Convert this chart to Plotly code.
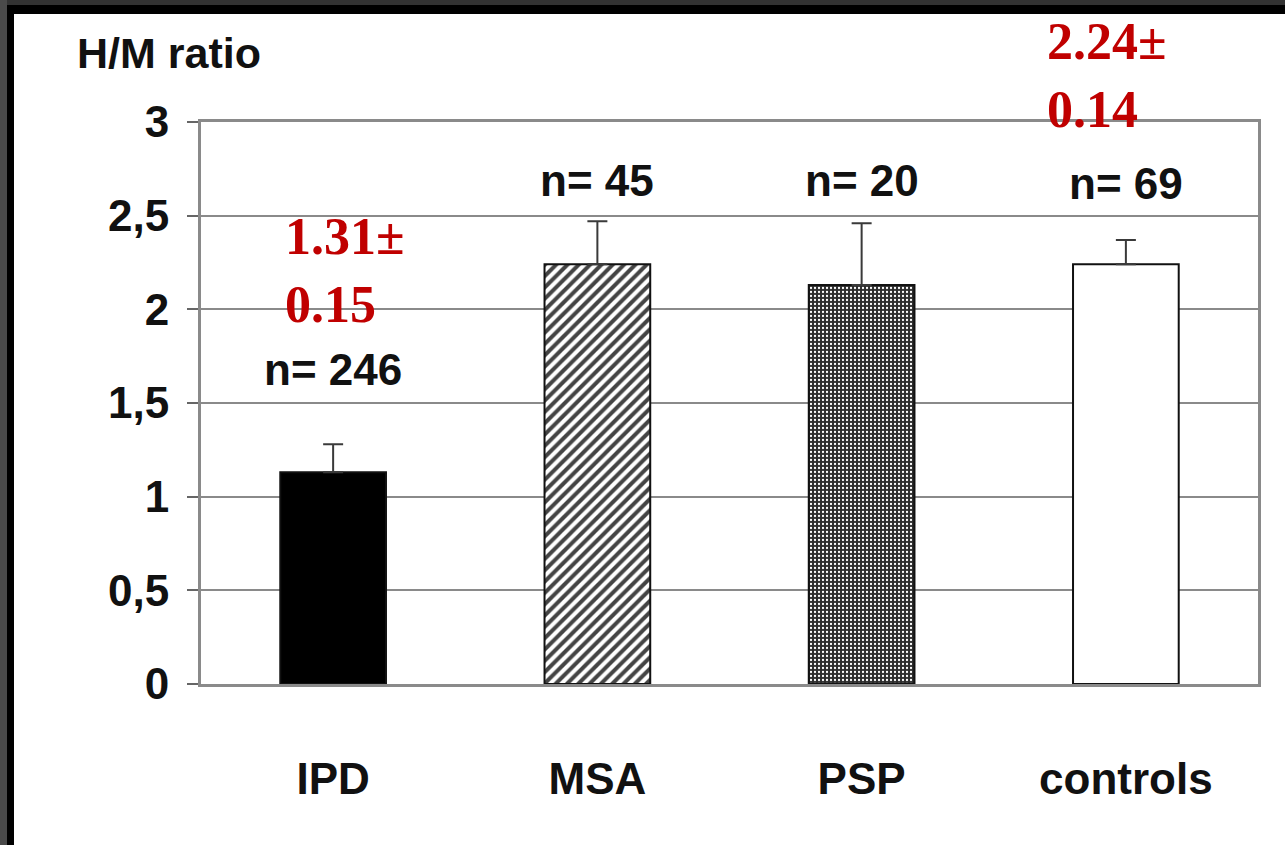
import plotly.graph_objects as go

categories = ["IPD", "MSA", "PSP", "controls"]
means = [1.13, 2.24, 2.13, 2.24]
sem = [0.15, 0.23, 0.33, 0.13]
n_labels = ["n= 246", "n= 45", "n= 20", "n= 69"]
n_label_y = [1.68, 2.69, 2.69, 2.67]
red_notes = ["1.31±<br>0.15", "2.24±<br>0.14"]
red_note_cats = ["IPD", "controls"]
red_note_y = [2.205, 3.25]
tick_vals = [0, 0.5, 1, 1.5, 2, 2.5, 3]
tick_text = ["0", "0,5", "1", "1,5", "2", "2,5", "3"]
Y_MAX = 3

SANS = "Liberation Sans, Arial, sans-serif"
SERIF = "Liberation Serif, Times New Roman, serif"

fills = ["#000000", "#ffffff", "#2c2c2c", "#ffffff"]
pshapes = ["", "/", ".", ""]
pfg = ["#000000", "#000000", "#8c8c8c", "#000000"]
psize = [8, 8, 4, 8]
psol = [0.3, 0.5, 0.25, 0.3]

fig = go.Figure()
fig.add_trace(go.Bar(
    x=categories, y=means, width=0.4,
    marker=dict(
        color=fills,
        line=dict(color="#111111", width=2),
        pattern=dict(shape=pshapes, fgcolor=pfg, fgopacity=1,
                     size=psize, solidity=psol, fillmode="overlay"),
    ),
    error_y=dict(type="data", symmetric=False, array=sem,
                 arrayminus=[0] * len(sem), color="#3a3a3a",
                 thickness=2, width=10),
    showlegend=False,
))

annotations = []
for c, t, yv in zip(categories, n_labels, n_label_y):
    annotations.append(dict(x=c, y=yv, xref="x", yref="y", text="<b>" + t + "</b>",
                            showarrow=False,
                            font=dict(family=SANS, size=44, color="#111111")))
shifts = [-50, -81]
for c, t, yv, s in zip(red_note_cats, red_notes, red_note_y, shifts):
    annotations.append(dict(x=c, y=yv / Y_MAX, xref="x", yref="paper",
                            text="<b>" + t.replace("<br>", "</b><br><b>") + "</b>",
                            showarrow=False, xanchor="left", yanchor="middle",
                            xshift=s, align="left",
                            font=dict(family=SERIF, size=52, color="#c00000")))
annotations.append(dict(x=-0.1192, y=1.1228, xref="paper", yref="paper",
                        text="<b>H/M ratio</b>", showarrow=False, xanchor="left",
                        yanchor="middle",
                        font=dict(family=SANS, size=43, color="#111111")))

# page frame (dark border at top and left)
W, H = 1285, 845
L, R, T, B = 201, 27, 122, 161
pw, ph = W - L - R, H - T - B
def px(x):
    return (x - L) / pw
def py(y):
    return 1 - (y - T) / ph

shapes = [
    dict(type="rect", xref="paper", yref="paper", x0=px(0), x1=px(W), y0=py(0), y1=py(5),
         fillcolor="#333333", line=dict(width=0), layer="above"),
    dict(type="rect", xref="paper", yref="paper", x0=px(7), x1=px(W), y0=py(5), y1=py(14),
         fillcolor="#000000", line=dict(width=0), layer="above"),
    dict(type="rect", xref="paper", yref="paper", x0=px(0), x1=px(7), y0=py(0), y1=py(H),
         fillcolor="#4a4a4a", line=dict(width=0), layer="above"),
    dict(type="rect", xref="paper", yref="paper", x0=px(7), x1=px(14), y0=py(5), y1=py(H),
         fillcolor="#000000", line=dict(width=0), layer="above"),
]

fig.update_layout(
    width=W, height=H,
    margin=dict(l=L, r=R, t=T, b=B, autoexpand=False),
    paper_bgcolor="#ffffff", plot_bgcolor="#ffffff",
    annotations=annotations, shapes=shapes,
    xaxis=dict(showgrid=False, showline=True, linecolor="#8a8a8a", linewidth=3,
               mirror=True, ticks="", ticklabelstandoff=54,
               tickfont=dict(family=SANS, size=44, color="#111111", weight="bold")),
    yaxis=dict(range=[0, Y_MAX], tickvals=tick_vals, ticktext=tick_text,
               showgrid=True, gridcolor="#8a8a8a", gridwidth=2,
               showline=True, linecolor="#8a8a8a", linewidth=3, mirror=True,
               ticks="outside", ticklen=11, tickcolor="#666666", tickwidth=2,
               ticklabelstandoff=9, zeroline=False,
               tickfont=dict(family=SANS, size=44, color="#111111", weight="bold")),
)

fig.write_html("out.html", config={"displayModeBar": False},
               post_script="document.body.style.margin='0';")
